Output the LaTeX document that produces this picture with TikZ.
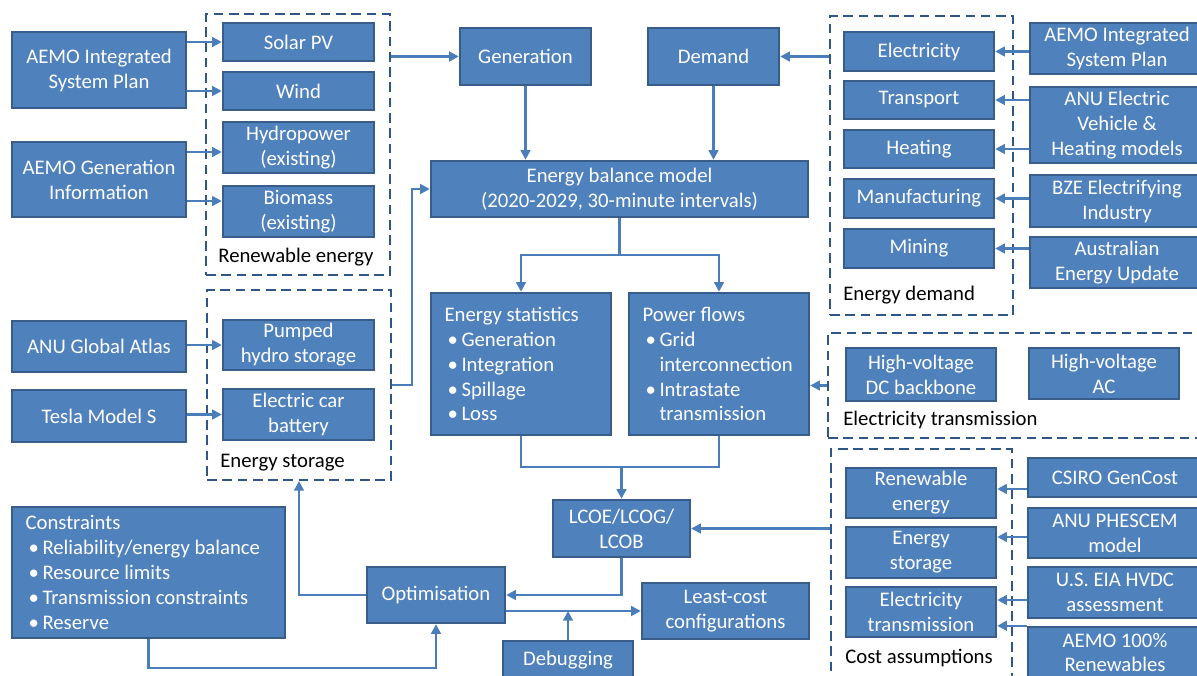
\documentclass[tikz,border=0pt]{standalone}
\usepackage{fontspec}
\setmainfont{Carlito}
\usetikzlibrary{arrows.meta}
\definecolor{boxfill}{HTML}{4F81BD}
\definecolor{boxline}{HTML}{385D8A}
\definecolor{wireblue}{HTML}{4A7EBB}
\definecolor{grpline}{HTML}{2E5788}
\newcommand{\itm}{\hspace*{0.06cm}\makebox[0.28cm][l]{\textbullet}}
\newcommand{\itmgap}{\hspace*{0.34cm}}

\begin{document}
\begin{tikzpicture}[x=0.02cm, y=-0.02cm,
  every node/.style={font=\fontsize{11.8}{14.2}\selectfont},
  bluebox/.style={fill=boxfill, draw=boxline, line width=1.4pt, text=white, align=center, inner sep=0pt},
  listbox/.style={bluebox, align=justify, inner xsep=0.27cm},
  grpbox/.style={draw=grpline, line width=1.2pt, dash pattern=on 5.5pt off 3.2pt, inner sep=0pt},
  grplabel/.style={anchor=base west, inner sep=0pt},
  wire/.style={draw=wireblue, line width=1.4pt},
  wirearrow/.style={wire, -{Triangle[length=5.5pt,width=5.5pt]}}]
\useasboundingbox (0,0) rectangle (1197,676);

\node[grpbox, minimum width=3.68cm, minimum height=5.22cm] (renew) at (298,144.5) {};
\node[grpbox, minimum width=3.68cm, minimum height=3.8cm] (storage) at (299,385) {};
\node[grpbox, minimum width=3.66cm, minimum height=5.98cm] (demgrp) at (921.5,165.5) {};
\node[grpbox, minimum width=7.64cm, minimum height=2.1cm] (transgrp) at (1019,385.5) {};
\node[grpbox, minimum width=3.62cm, minimum height=5.02cm] (costgrp) at (921.5,574.5) {};

\node[grplabel] (renewlbl) at (218,262) {Renewable energy};
\node[grplabel] (storlbl) at (220,467) {Energy storage};
\node[grplabel] (demlbl) at (843,300) {Energy demand};
\node[grplabel] (translbl) at (843,425) {Electricity transmission};
\node[grplabel] (costlbl) at (845,663) {Cost assumptions};

\node[bluebox, minimum width=3.48cm, minimum height=1.52cm] (srcisp) at (99,70) {AEMO Integrated\\System Plan};
\node[bluebox, minimum width=3.48cm, minimum height=1.5cm] (srcgen) at (99,179.5) {AEMO Generation\\Information};
\node[bluebox, minimum width=3.48cm, minimum height=1.02cm] (atlas) at (99,346.5) {ANU Global Atlas};
\node[bluebox, minimum width=3.48cm, minimum height=1.04cm] (tesla) at (99,416) {Tesla Model S};

\node[bluebox, minimum width=3.02cm, minimum height=0.76cm] (solar) at (298.5,42) {Solar PV};
\node[bluebox, minimum width=3.02cm, minimum height=0.76cm] (wind) at (298.5,91) {Wind};
\node[bluebox, minimum width=3.02cm, minimum height=1.02cm] (hydro) at (298.5,147.5) {Hydropower\\(existing)};
\node[bluebox, minimum width=3.02cm, minimum height=1.02cm] (biomass) at (298.5,211.5) {Biomass\\(existing)};
\node[bluebox, minimum width=3.02cm, minimum height=1.0cm] (pumped) at (298.5,345) {Pumped\\hydro storage};
\node[bluebox, minimum width=3.02cm, minimum height=1.02cm] (battery) at (298.5,414.5) {Electric car\\battery};

\node[bluebox, minimum width=2.62cm, minimum height=1.14cm] (gen) at (525.5,56.5) {Generation};
\node[bluebox, minimum width=2.62cm, minimum height=1.14cm] (demand) at (713.5,56.5) {Demand};
\node[bluebox, minimum width=7.54cm, minimum height=1.12cm] (ebm) at (619.5,189) {Energy balance model\\(2020-2029, 30-minute intervals)};
\node[listbox, text width=3.06cm, minimum height=2.84cm] (stats) at (521,364) {Energy statistics\\\itm Generation\\\itm Integration\\\itm Spillage\\\itm Loss};
\node[listbox, text width=3.06cm, minimum height=2.84cm] (flows) at (719,364) {Power flows\\\itm Grid\\\itmgap interconnection\\\itm Intrastate\\\itmgap transmission};
\node[bluebox, minimum width=2.74cm, minimum height=1.14cm] (lcoe) at (621.5,528.5) {LCOE/LCOG/\\LCOB};
\node[bluebox, minimum width=2.76cm, minimum height=1.12cm] (opt) at (436,595) {Optimisation};
\node[bluebox, minimum width=3.34cm, minimum height=1.12cm] (lcost) at (725.5,611) {Least-cost\\configurations};
\node[bluebox, minimum width=2.6cm, minimum height=0.76cm] (debug) at (568,660) {Debugging};
\node[listbox, text width=4.92cm, minimum height=2.62cm] (cons) at (148.5,572.5) {Constraints\\\itm Reliability/energy balance\\\itm Resource limits\\\itm Transmission constraints\\\itm Reserve};

\node[bluebox, minimum width=3.0cm, minimum height=0.78cm] (elec) at (919,51.5) {Electricity};
\node[bluebox, minimum width=3.0cm, minimum height=0.76cm] (transport) at (919,100) {Transport};
\node[bluebox, minimum width=3.0cm, minimum height=0.76cm] (heating) at (919,149) {Heating};
\node[bluebox, minimum width=3.0cm, minimum height=0.78cm] (manuf) at (919,198.5) {Manufacturing};
\node[bluebox, minimum width=3.0cm, minimum height=0.78cm] (mining) at (919,248.5) {Mining};

\node[bluebox, minimum width=3.48cm, minimum height=1.02cm] (disp) at (1117,48.5) {AEMO Integrated\\System Plan};
\node[bluebox, minimum width=3.48cm, minimum height=1.52cm] (danu) at (1117,125) {ANU Electric\\Vehicle \&\\Heating models};
\node[bluebox, minimum width=3.48cm, minimum height=1.04cm] (dbze) at (1117,201) {BZE Electrifying\\Industry};
\node[bluebox, minimum width=3.48cm, minimum height=1.02cm] (daeu) at (1117,262.5) {Australian\\Energy Update};

\node[bluebox, minimum width=3.0cm, minimum height=1.06cm] (hvdc) at (921,374.5) {High-voltage\\DC backbone};
\node[bluebox, minimum width=3.0cm, minimum height=1.02cm] (hvac) at (1104,373.5) {High-voltage\\AC};

\node[bluebox, minimum width=3.0cm, minimum height=1.0cm] (cre) at (921,493) {Renewable\\energy};
\node[bluebox, minimum width=3.0cm, minimum height=1.02cm] (ces) at (921,552.5) {Energy\\storage};
\node[bluebox, minimum width=3.0cm, minimum height=1.0cm] (cet) at (921,612) {Electricity\\transmission};
\node[bluebox, minimum width=3.48cm, minimum height=0.78cm] (csiro) at (1115,477.5) {CSIRO GenCost};
\node[bluebox, minimum width=3.48cm, minimum height=1.0cm] (phescem) at (1115,533) {ANU PHESCEM\\model};
\node[bluebox, minimum width=3.48cm, minimum height=1.02cm] (eia) at (1115,592.5) {U.S. EIA HVDC\\assessment};
\node[bluebox, minimum width=3.48cm, minimum height=1.02cm] (aemo100) at (1115,652.5) {AEMO 100\%\\Renewables};

\draw[wirearrow] (srcisp.east |- solar.west) -- (solar.west);
\draw[wirearrow] (srcisp.east |- wind.west) -- (wind.west);
\draw[wirearrow] (srcgen.east |- 0,152) -- (hydro.west |- 0,152);
\draw[wirearrow] (srcgen.east |- 0,201) -- (biomass.west |- 0,201);
\draw[wirearrow] (atlas.east |- pumped.west) -- (pumped.west);
\draw[wirearrow] (tesla.east |- battery.west) -- (battery.west);

\draw[wirearrow] (disp.west |- elec.east) -- (elec.east);
\draw[wirearrow] (danu.west |- transport.east) -- (transport.east);
\draw[wirearrow] (danu.west |- heating.east) -- (heating.east);
\draw[wirearrow] (dbze.west |- manuf.east) -- (manuf.east);
\draw[wirearrow] (daeu.west |- mining.east) -- (mining.east);

\draw[wirearrow] (csiro.west |- 0,489) -- (cre.east |- 0,489);
\draw[wirearrow] (phescem.west |- 0,537) -- (ces.east |- 0,537);
\draw[wirearrow] (eia.west |- 0,600) -- (cet.east |- 0,600);
\draw[wirearrow] (aemo100.north west) -- (aemo100.north west -| cet.east);

\draw[wirearrow] (renew.east |- gen.west) -- (gen.west);
\draw[wirearrow] (demgrp.west |- demand.east) -- (demand.east);
\draw[wirearrow] (gen.south) -- (gen.south |- ebm.north);
\draw[wirearrow] (demand.south) -- (demand.south |- ebm.north);
\coordinate (storbend) at (412,385);
\draw[wirearrow] (storage.east) -- (storbend) |- (ebm.west);

\coordinate (split) at (619.5,255);
\draw[wire] (ebm.south) -- (split);
\draw[wirearrow] (split) -| (stats.north);
\draw[wirearrow] (split) -| (flows.north);
\coordinate (merge) at (621.5,467);
\draw[wire] (stats.south) |- (merge) -| (flows.south);
\draw[wirearrow] (merge) -- (lcoe.north);
\draw[wirearrow] (transgrp.west) -- (transgrp.west -| flows.east);
\draw[wirearrow] (costgrp.west |- lcoe.east) -- (lcoe.east);

\draw[wirearrow] (lcoe.south) |- (opt.east);
\draw[wirearrow] (opt.east |- lcost.west) -- (lcost.west);
\draw[wirearrow] (debug.north) -- (debug.north |- lcost.west);
\draw[wirearrow] (opt.west) -| (storage.south);
\coordinate (consbend) at (148.5,668);
\draw[wirearrow] (cons.south) -- (consbend) -| (opt.south);
\end{tikzpicture}
\end{document}
